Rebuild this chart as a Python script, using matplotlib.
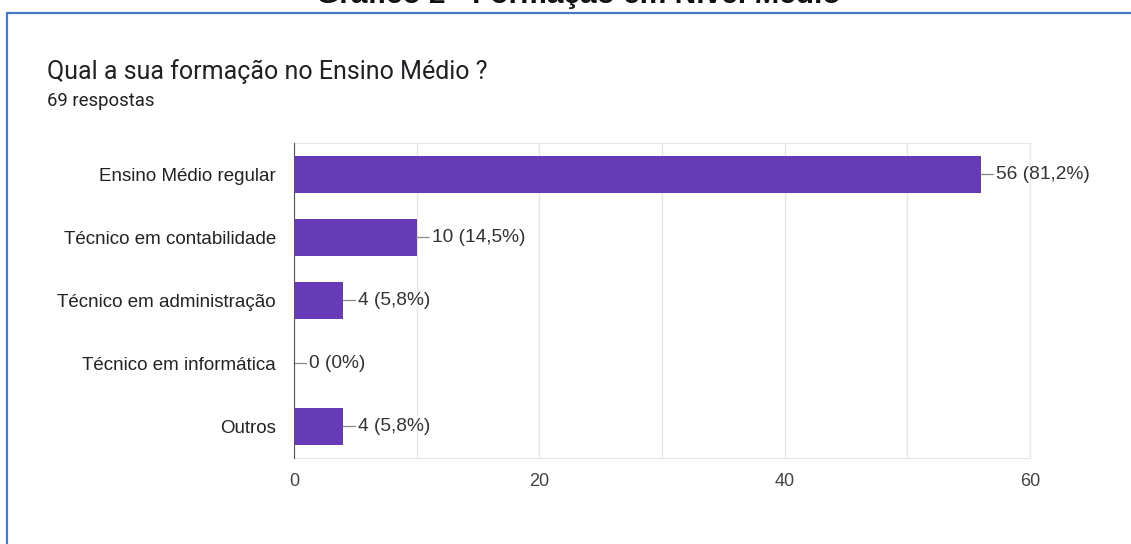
import matplotlib.pyplot as plt
from matplotlib.patches import Rectangle

categories = ["Ensino Médio regular", "Técnico em contabilidade", "Técnico em administração",
              "Técnico em informática", "Outros"]
counts = [56, 10, 4, 0, 4]
labels = ["56 (81,2%)", "10 (14,5%)", "4 (5,8%)", "0 (0%)", "4 (5,8%)"]
xticks = [0, 20, 40, 60]

plt.rcParams['font.family'] = ['Liberation Sans', 'DejaVu Sans']

fig = plt.figure(figsize=(11.31, 5.44), dpi=100)

# blue frame around the screenshot (right/bottom edges fall outside the image)
fig.add_artist(Rectangle((7 / 1131, -0.1), 1.2, 0.1 + 1 - 13 / 544, transform=fig.transFigure,
                         fill=False, edgecolor='#4a78c8', lw=1.6))

# caption cut by the top edge of the crop
fig.text(578 / 1131, 1 - 3 / 544, "Gráfico 2 - Formação em Nível Médio", ha='center', va='baseline',
         fontsize=21.5, fontweight='bold', color='#111111')

fig.text(47 / 1131, 1 - 72 / 544, "Qual a sua formação no Ensino Médio ?", ha='left', va='center',
         fontsize=18, color='#202124', family=['Roboto', 'DejaVu Sans'])
fig.text(47 / 1131, 1 - 101 / 544, "69 respostas", ha='left', va='center', fontsize=13.3,
         color='#202124', family=['Roboto', 'DejaVu Sans'])

ax = fig.add_axes([294 / 1131, 1 - 458 / 544, 736 / 1131, 315 / 544])
y = list(range(len(categories)))
ax.barh(y, counts, height=0.6, color='#673ab7', zorder=3)
ax.set_ylim(len(categories) - 0.5, -0.5)
ax.set_xlim(0, 60)
ax.set_yticks(y)
ax.set_yticklabels(categories, fontsize=13.5, color='#222222')
ax.set_xticks(xticks)
ax.set_xticklabels([str(t) for t in xticks], fontsize=13, color='#444444')
ax.set_xticks([10, 30, 50], minor=True)
ax.tick_params(axis='both', which='both', length=0)
ax.tick_params(axis='y', pad=13)
ax.tick_params(axis='x', pad=11)
ax.grid(axis='x', which='both', color='#e6e6e6', lw=1, zorder=0)
for side in ['top', 'right', 'bottom']:
    ax.spines[side].set_color('#e6e6e6')
ax.spines['left'].set_color('#555555')
ax.spines['left'].set_zorder(4)

for yi, c, lab in zip(y, counts, labels):
    ax.annotate(lab, xy=(c, yi), xytext=(11, 0), textcoords='offset points', ha='left', va='center',
                fontsize=13.8, color='#333333',
                arrowprops=dict(arrowstyle='-', color='#888888', lw=0.9, shrinkA=0, shrinkB=0))

fig.savefig("out.png", dpi=100)
